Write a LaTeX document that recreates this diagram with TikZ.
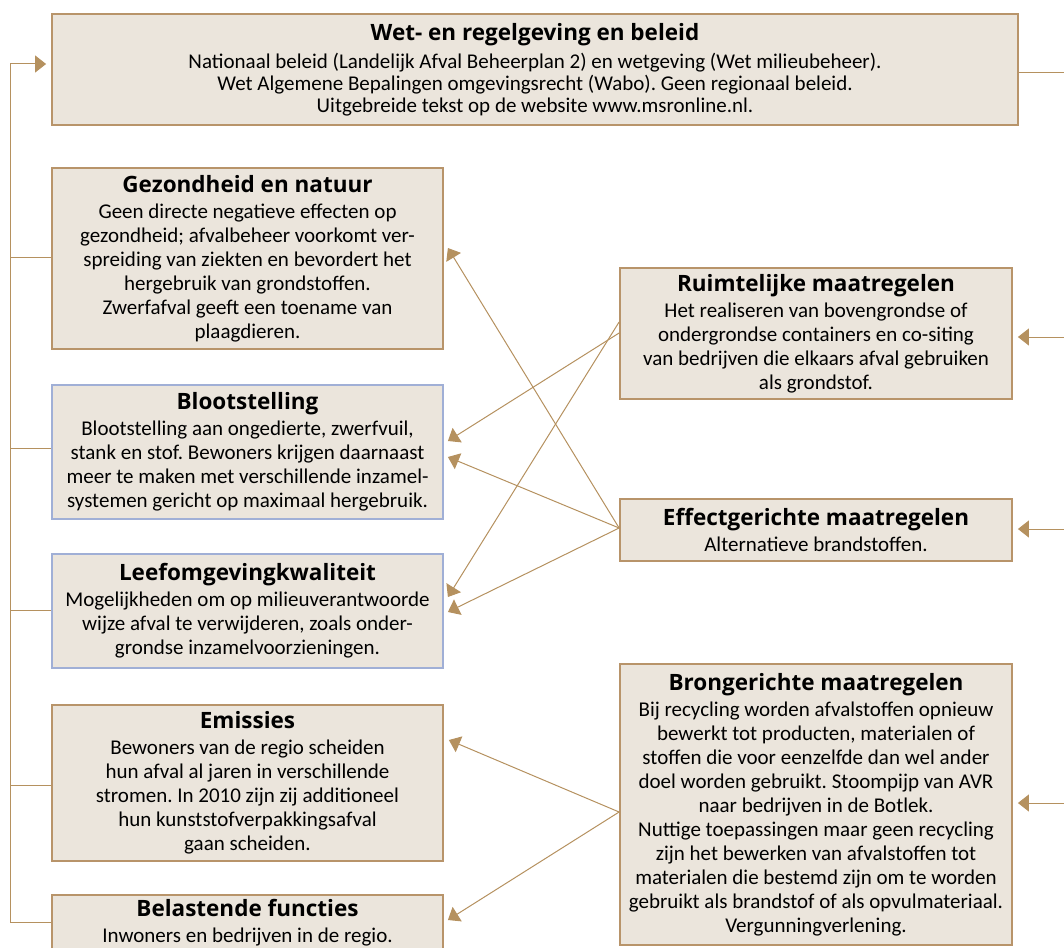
\documentclass[tikz,border=0pt]{standalone}
\usepackage{fontspec}
\setmainfont{Carlito}
\newfontfamily\ttlfont{Open Sans}
\usetikzlibrary{arrows.meta,calc}
\definecolor{bg}{HTML}{EBE5DC}
\definecolor{brd}{HTML}{B8946A}
\definecolor{blu}{HTML}{A0AFD6}
\definecolor{lin}{HTML}{B5915F}
\newcommand\bxt[1]{{\ttlfont\fontsize{22.5}{24}\selectfont\bfseries #1}}
\frenchspacing
\begin{document}
\frenchspacing
\begin{tikzpicture}[x=1pt,y=-1pt,
  box/.style={draw=brd,fill=bg,line width=1.8pt,inner sep=0pt,align=center,font=\fontsize{21}{24}\selectfont\frenchspacing},
  bbox/.style={box,draw=blu},
  lw/.style={minimum width=391pt},
  rw/.style={minimum width=392pt},
  conn/.style={draw=lin,line width=1pt},
  arr/.style={conn,-{Triangle[length=11pt,width=17pt]}},
]
\useasboundingbox (0,0) rectangle (1064,947);

\node[box,minimum width=966pt,minimum height=111pt,font=\fontsize{21}{22}\selectfont\frenchspacing] (top) at (535,69.5)
 {\bxt{Wet- en regelgeving en beleid}\\[6pt]
  Nationaal beleid (Landelijk Afval Beheerplan 2) en wetgeving (Wet milieubeheer).\\
  Wet Algemene Bepalingen omgevingsrecht (Wabo). Geen regionaal beleid.\\
  Uitgebreide tekst op de website www.msronline.nl.};

\node[box,lw,minimum height=181pt] (gez) at (247.5,258.5)
 {\bxt{Gezondheid en natuur}\\[2pt]
  Geen directe negatieve effecten op\\
  gezondheid; afvalbeheer voorkomt ver-\\
  spreiding van ziekten en bevordert het\\
  hergebruik van grondstoffen.\\
  Zwerfafval geeft een toename van\\
  plaagdieren.};

\node[bbox,lw,minimum height=134pt] (bloot) at (247.5,452)
 {\bxt{Blootstelling}\\[2pt]
  Blootstelling aan ongedierte, zwerfvuil,\\
  stank en stof. Bewoners krijgen daarnaast\\
  meer te maken met verschillende inzamel-\\
  systemen gericht op maximaal hergebruik.};

\node[bbox,lw,minimum height=114pt] (leef) at (247.5,611)
 {\bxt{Leefomgevingkwaliteit}\\[2pt]
  Mogelijkheden om op milieuverantwoorde\\
  wijze afval te verwijderen, zoals onder-\\
  grondse inzamelvoorzieningen.};

\node[box,lw,minimum height=156pt] (emis) at (247.5,783)
 {\bxt{Emissies}\\[2pt]
  Bewoners van de regio scheiden\\
  hun afval al jaren in verschillende\\
  stromen. In 2010 zijn zij additioneel\\
  hun kunststofverpakkingsafval\\
  gaan scheiden.};

\node[box,lw,minimum height=56pt] (bel) at (247.5,923)
 {\bxt{Belastende functies}\\[2pt]
  Inwoners en bedrijven in de regio.};

\node[box,rw,minimum height=131pt] (ruim) at (816,333.5)
 {\bxt{Ruimtelijke maatregelen}\\[2pt]
  Het realiseren van bovengrondse of\\
  ondergrondse containers en co-siting\\
  van bedrijven die elkaars afval gebruiken\\
  als grondstof.};

\node[box,rw,minimum height=62pt] (eff) at (816,530)
 {\bxt{Effectgerichte maatregelen}\\[2pt]
  Alternatieve brandstoffen.};

\node[box,rw,minimum height=281pt] (bron) at (816,804.5)
 {\bxt{Brongerichte maatregelen}\\[2pt]
  Bij recycling worden afvalstoffen opnieuw\\
  bewerkt tot producten, materialen of\\
  stoffen die voor eenzelfde dan wel ander\\
  doel worden gebruikt. Stoompijp van AVR\\
  naar bedrijven in de Botlek.\\
  Nuttige toepassingen maar geen recycling\\
  zijn het bewerken van afvalstoffen tot\\
  materialen die bestemd zijn om te worden\\
  gebruikt als brandstof of als opvulmateriaal.\\
  Vergunningverlening.};

% left trunk
\coordinate (tt) at (10,64);
\coordinate (tb) at (10,922);
\coordinate (b1) at (10,257);
\coordinate (b2) at (10,448);
\coordinate (b3) at (10,610);
\coordinate (b4) at (10,785);
\draw[conn] (tb) -- (tt);
\draw[arr,shorten >=5pt] (tt) -- (tt -| top.west);
\draw[conn] (b1) -- (b1 -| gez.west);
\draw[conn] (b2) -- (b2 -| bloot.west);
\draw[conn] (b3) -- (b3 -| leef.west);
\draw[conn] (b4) -- (b4 -| emis.west);
\draw[conn] (tb) -- (tb -| bel.west);

% right side
\coordinate (rt) at (1064,73);
\coordinate (r1) at (1064,337);
\coordinate (r2) at (1064,529);
\coordinate (r3) at (1064,803);
\draw[conn] (rt -| top.east) -- (rt);
\draw[arr,shorten >=5pt] (r1) -- (r1 -| ruim.east);
\draw[arr,shorten >=5pt] (r2) -- (r2 -| eff.east);
\draw[arr,shorten >=5pt] (r3) -- (r3 -| bron.east);

% cross connectors
\draw[arr] ($(ruim.west)+(0,-0.5)$) -- ($(bloot.east)+(4,-11)$);
\draw[arr] ($(ruim.west)+(0,-11.5)$) -- ($(leef.east)+(4,-14)$);
\draw[arr] ($(eff.west)+(0,-2)$) -- ($(gez.east)+(4,-10.5)$);
\draw[arr] ($(eff.west)+(0,-2)$) -- ($(bloot.east)+(4,5)$);
\draw[arr] ($(eff.west)+(0,-2)$) -- ($(leef.east)+(4,1)$);
\draw[arr] ($(bron.west)+(0,7.5)$) -- ($(emis.east)+(5,-43)$);
\draw[arr] ($(bron.west)+(0,7.5)$) -- ($(bel.east)+(4,-3)$);
\end{tikzpicture}
\end{document}
